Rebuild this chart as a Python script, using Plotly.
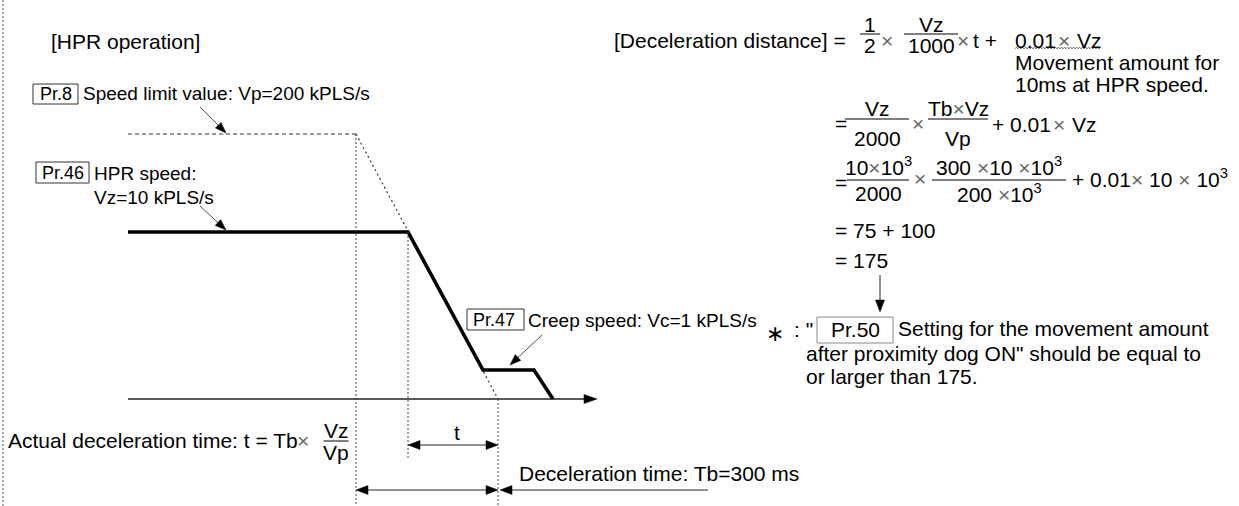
import math
import plotly.graph_objects as go

W, H = 1239, 506
AXIS_PY = 399          # pixel row of the time axis
FONT = "Liberation Sans, Arial, sans-serif"
GRAY_X = "#666666"

# ---------------- data: schematic speed profile ----------------
# time positions / speed heights above the time axis (schematic units)
hpr_t = [128, 408, 483, 534, 553]      # HPR speed -> decel -> creep -> stop
hpr_v = [167, 167, 29, 29, 0]
limit_t = [128, 356, 498]              # speed limit value and its decel line
limit_v = [265, 265, 0]
axis_t = [128, 597]                    # time axis extent

# text content
title_left = "[HPR operation]"
pr8_label = "Speed limit value: Vp=200 kPLS/s"
pr46_label = ["HPR speed:", "Vz=10 kPLS/s"]
pr47_label = "Creep speed: Vc=1 kPLS/s"
actual_label = "Actual deceleration time: t = Tb"
decel_label = "Deceleration time: Tb=300 ms"
note_lines = ["Setting for the movement amount",
              "after proximity dog ON\" should be equal to",
              "or larger than 175."]


def Y(py):
    """pixel row -> data y (speed height above axis)"""
    return AXIS_PY - py


fig = go.Figure()
shapes = []
annotations = []


def line(x0, y0, x1, y1, width=1.0, color="#222", dash="solid"):
    shapes.append(dict(type="line", xref="x", yref="y", x0=x0, y0=y0, x1=x1, y1=y1,
                       line=dict(color=color, width=width, dash=dash)))


def head(x0, y0, x1, y1, length=12, width=9, color="#000"):
    dx, dy = x1 - x0, y1 - y0
    L = math.hypot(dx, dy)
    ux, uy = dx / L, dy / L
    bx, by = x1 - ux * length, y1 - uy * length
    px, py = -uy, ux
    path = (f"M{x1},{y1} L{bx + px * width / 2},{by + py * width / 2} "
            f"L{bx - px * width / 2},{by - py * width / 2} Z")
    shapes.append(dict(type="path", xref="x", yref="y", path=path,
                       fillcolor=color, line=dict(color=color, width=0.5)))


def arrow(x0, y0, x1, y1, width=1.0, length=12, hw=9, color="#222"):
    dx, dy = x1 - x0, y1 - y0
    L = math.hypot(dx, dy)
    ex, ey = x1 - dx / L * (length - 1), y1 - dy / L * (length - 1)
    line(x0, y0, ex, ey, width, color)
    head(x0, y0, x1, y1, length, hw, "#000")


def dim(x0, x1, y, length=12, hw=9):
    line(x0 + length - 1, y, x1 - length + 1, y, 1.0, "#222")
    head(x1, y, x0, y, length, hw)
    head(x0, y, x1, y, length, hw)


def txt(s, x, py, size=21, anchor="left", color="#000", family=FONT):
    annotations.append(dict(text=s, x=x, y=Y(py), xref="x", yref="y", showarrow=False,
                            xanchor=anchor, yanchor="middle", borderpad=0,
                            font=dict(size=size, color=color, family=family)))


def box(x0, x1, py0, py1, color="#333"):
    shapes.append(dict(type="rect", xref="x", yref="y", x0=x0, x1=x1, y0=Y(py1), y1=Y(py0),
                       line=dict(color=color, width=1)))


def frac(num, den, xc, py_line, half, size=21, dnum=11, dden=11):
    line(xc - half, Y(py_line), xc + half, Y(py_line), 1.0, "#000")
    txt(num, xc, py_line - dnum, size, "center")
    txt(den, xc, py_line + dden, size, "center")


X = f'<span style="color:{GRAY_X};font-size:21px">×</span>'


def times(x, py):
    txt("×", x, py, 21, "center", GRAY_X)


# ---------------- profile traces (data) ----------------
fig.add_trace(go.Scatter(x=limit_t[:2], y=limit_v[:2], mode="lines", hoverinfo="skip",
                         line=dict(color="#333", width=1.1, dash="4px,3px")))
fig.add_trace(go.Scatter(x=limit_t[1:], y=limit_v[1:], mode="lines", hoverinfo="skip",
                         line=dict(color="#333", width=1.2, dash="2px,3px")))
fig.add_trace(go.Scatter(x=hpr_t, y=hpr_v, mode="lines", hoverinfo="skip",
                         line=dict(color="#000", width=3.6)))
# time axis
fig.add_trace(go.Scatter(x=[axis_t[0], axis_t[1] - 11], y=[0, 0], mode="lines", hoverinfo="skip",
                         line=dict(color="#222", width=1.5)))
head(axis_t[0], 0, axis_t[1], 0, 13, 9)

# ---------------- dotted guide lines ----------------
dot = "2px,2px"
line(3, Y(0), 3, Y(H), 1, "#555", dot)                               # left border
line(limit_t[1], limit_v[1], limit_t[1], Y(H), 1, "#444", dot)
line(hpr_t[1], hpr_v[1], hpr_t[1], Y(460), 1, "#444", dot)
line(limit_t[2], 0, limit_t[2], Y(H), 1, "#444", dot)

# ---------------- dimension arrows ----------------
dim(hpr_t[1], limit_t[2], Y(445))
dim(limit_t[1], limit_t[2], Y(490))
line(limit_t[2] + 12, Y(490), 708, Y(490), 1.0, "#222")
head(708, Y(490), limit_t[2] + 2, Y(490))

# ---------------- left labels ----------------
LBL = 19
PRS = 18
txt(title_left, 50, 41)
box(33, 78, 84, 104)
txt("Pr.8", 55.5, 94, PRS, "center")
txt(pr8_label, 82, 93, LBL)
arrow(200, Y(107), 226, Y(133), 0.8, 11, 8)

box(36, 89, 162, 183)
txt("Pr.46", 62.5, 172.5, PRS, "center")
txt(pr46_label[0], 93, 173, LBL)
txt(pr46_label[1], 93, 197, LBL)
arrow(200, Y(206), 226, Y(230), 0.8, 11, 8)

box(467, 524, 309, 330)
txt("Pr.47", 472, 319.5, PRS)
txt(pr47_label, 527, 320, LBL)
arrow(542, Y(335), 510, Y(365), 0.8, 11, 8)

txt(actual_label, 7, 440)
times(303, 440)
frac("Vz", "Vp", 336, 441, 12.5)
txt("t", 453, 432)
txt(decel_label, 518, 473)

# ---------------- right formulas ----------------
txt("[Deceleration distance] =", 613, 40)
frac("1", "2", 870, 34, 10, dnum=10, dden=11)
times(887, 40)
frac("Vz", "1000", 931, 34, 27, dnum=10, dden=11)
times(963, 40)
txt("t +", 972, 40)
txt("0.01", 1014, 40)
times(1064, 40)
txt("Vz", 1076, 40)
# wavy underline
wx = [1015 + i * 1.5 for i in range(58)]
wpath = "M" + " L".join(f"{x},{Y(48) + (0.9 if i % 2 else -0.9)}" for i, x in enumerate(wx))
shapes.append(dict(type="path", xref="x", yref="y", path=wpath, line=dict(color="#555", width=0.8)))
txt("Movement amount for", 1014, 62)
txt("10ms at HPR speed.", 1014, 84)

txt("=", 834, 123)
frac("Vz", "2000", 877, 119, 32, dnum=11, dden=19)
times(918, 123)
frac("Tb" + X + "Vz", "Vp", 958, 119, 30, dnum=11, dden=19)
txt("+ 0.01", 991, 124)
times(1059, 124)
txt("Vz", 1071, 124)

txt("=", 834, 182)
frac("10" + X + "10<sup>3</sup>", "2000", 878, 180, 31, dnum=14, dden=13)
times(920, 178)
frac("300 " + X + "10 " + X + "10<sup>3</sup>", "200 " + X + "10<sup>3</sup>", 999, 180, 67, dnum=14, dden=13)
txt("+ 0.01" + X + " 10 " + X + " 10<sup>3</sup>", 1071, 178)

txt("= 75 + 100", 834, 230)
txt("= 175", 834, 260)
arrow(880, Y(275), 880, Y(312), 1.0, 12, 9)

# ---------------- note ----------------
txt("∗", 775, 333, 22, "center", "#000", "DejaVu Sans")
txt(': "', 793, 329)
box(817, 893, 317, 343, "#888")
txt("Pr.50", 855, 329, 21, "center")
txt(note_lines[0], 897, 328)
txt(note_lines[1], 805, 353)
txt(note_lines[2], 805, 376)

fig.update_layout(
    width=W, height=H, margin=dict(l=0, r=0, t=0, b=0),
    paper_bgcolor="white", plot_bgcolor="white", showlegend=False,
    xaxis=dict(range=[0, W], visible=False, fixedrange=True),
    yaxis=dict(range=[Y(H), Y(0)], visible=False, fixedrange=True),
    shapes=shapes, annotations=annotations,
    font=dict(family=FONT, color="#000"),
)

fig.write_html("out.html", config={"displayModeBar": False},
               post_script="document.body.style.margin='0';")
